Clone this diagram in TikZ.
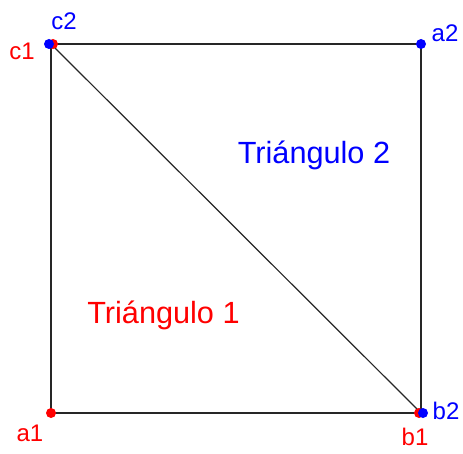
\documentclass[tikz,border=0pt]{standalone}
\usepackage{fontspec}
\setmainfont{Liberation Sans}
\usepackage{tikz}
\usetikzlibrary{positioning}
\definecolor{ptred}{RGB}{255,0,0}
\definecolor{ptblue}{RGB}{0,0,255}
\tikzset{
  sq edge/.style={draw=black!85, line width=1.1pt},
  pt dot/.style={circle, inner sep=0pt, minimum size=7.5pt},
  red dot/.style={pt dot, fill=ptred},
  blue dot/.style={pt dot, fill=ptblue},
  pt label/.style={font=\fontsize{18}{18}\selectfont, inner sep=0pt},
  tri label/.style={font=\fontsize{23}{23}\selectfont, inner sep=0pt}
}
\begin{document}
\begin{tikzpicture}[x=0.75pt, y=-0.75pt]
\useasboundingbox (0,0) rectangle (463,453);

% -- corners --
\coordinate (tl) at (51,44);
\coordinate (tr) at (421,44);
\coordinate (bl) at (51,413);
\coordinate (br) at (421,413);

% -- square and diagonal --
\draw[sq edge] (tl) -- (tr) -- (br) -- (bl) -- cycle;
\draw[sq edge, line width=0.9pt] (tl) -- (br);

% -- points of triangle 1 (red) and triangle 2 (blue) --
\node[red dot] (c1) at (53,44) {};
\node[blue dot] (c2) at (49,44) {};
\node[red dot] (a1) at (51,413) {};
\node[blue dot] (a2) at (421,44) {};
\node[red dot] (b1) at (419,413) {};
\node[blue dot] (b2) at (423,413) {};

% -- labels --
\node[pt label, text=ptred] (lc1) at (22,51) {c1};
\node[pt label, text=ptblue] (lc2) at (64,21) {c2};
\node[pt label, text=ptred] (la1) at (30,433) {a1};
\node[pt label, text=ptblue] (la2) at (445,33) {a2};
\node[pt label, text=ptred] (lb1) at (415,437) {b1};
\node[pt label, text=ptblue] (lb2) at (446,411) {b2};

\node[tri label, text=ptred] (t1) at (163.5,315) {Triángulo 1};
\node[tri label, text=ptblue] (t2) at (314,155) {Triángulo 2};

\end{tikzpicture}
\end{document}
